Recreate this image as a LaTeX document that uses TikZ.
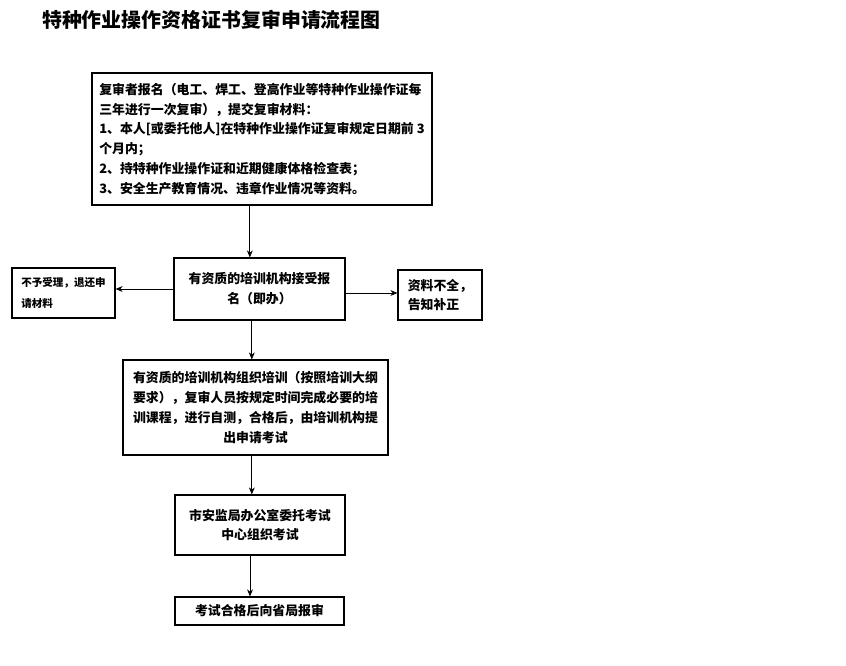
\documentclass[tikz,border=0pt]{standalone}
\usepackage{fontspec}
\usepackage{tikz}
\usetikzlibrary{arrows.meta, positioning, calc}
\newfontfamily\cjk{Noto Sans CJK SC}
\definecolor{boxline}{HTML}{000000}

\begin{document}
\begin{tikzpicture}[
  x=0.03cm, y=-0.03cm,
  stepbox/.style={rectangle, draw=boxline, line width=1pt, inner sep=4pt,
                  font=\cjk\bfseries\fontsize{11}{17}\selectfont},
  arr/.style={-{Stealth[length=6pt, width=5pt]}, boxline, line width=0.6pt},
  ttl/.style={font=\cjk\bfseries\fontsize{17}{20}\selectfont, anchor=west},
]
  \useasboundingbox (0,0) rectangle (846,665);

  \node[ttl] (title) at (38,20) {特种作业操作资格证书复审申请流程图};

  \node[stepbox, minimum width=10.2cm, minimum height=3.96cm, align=left] (apply) at (262,139)
    {复审者报名（电工、焊工、登高作业等特种作业操作证每\\
     三年进行一次复审），提交复审材料：\\
     1、本人[或委托他人]在特种作业操作证复审规定日期前 3\\
     个月内；\\
     2、持特种作业操作证和近期健康体格检查表；\\
     3、安全生产教育情况、违章作业情况等资料。};
  \node[stepbox, minimum width=5.13cm, minimum height=1.86cm, align=center] (accept) at (259.5,289)
    {有资质的培训机构接受报\\名（即办）};
  \node[stepbox, minimum width=3.09cm, minimum height=1.5cm, align=left,
        font=\cjk\bfseries\fontsize{9}{18.5}\selectfont] (reject) at (63.5,293)
    {不予受理，退还申\\请材料};
  \node[stepbox, minimum width=2.52cm, minimum height=1.5cm, align=left] (supply) at (440,295)
    {资料不全，\\告知补正};
  \node[stepbox, minimum width=7.95cm, minimum height=2.85cm, align=center] (train) at (255.5,407.5)
    {有资质的培训机构组织培训（按照培训大纲\\
     要求），复审人员按规定时间完成必要的培\\
     训课程，进行自测，合格后，由培训机构提\\
     出申请考试};
  \node[stepbox, minimum width=5.1cm, minimum height=1.8cm, align=center] (exam) at (260,525)
    {市安监局办公室委托考试\\中心组织考试};
  \node[stepbox, minimum width=5.07cm, minimum height=0.84cm, align=center] (report) at (259.5,611)
    {考试合格后向省局报审};

  % side exits of the accept box
  \coordinate (acceptR) at ([yshift=-0.12cm]accept.east);

  \draw[arr] ([xshift=-0.29cm]accept.north |- apply.south) -- ([xshift=-0.29cm]accept.north);
  \draw[arr] (accept.west) -- (reject.east |- accept.west);
  \draw[arr] (acceptR) -- (supply.west |- acceptR);
  \draw[arr] ([xshift=-0.23cm]accept.south) -- ([xshift=-0.23cm]accept.south |- train.north);
  \draw[arr] ([xshift=-0.23cm]accept.south |- train.south) -- ([xshift=-0.23cm]accept.south |- exam.north);
  \draw[arr] ([xshift=-0.3cm]exam.south) -- ([xshift=-0.3cm]exam.south |- report.north);
\end{tikzpicture}
\end{document}
